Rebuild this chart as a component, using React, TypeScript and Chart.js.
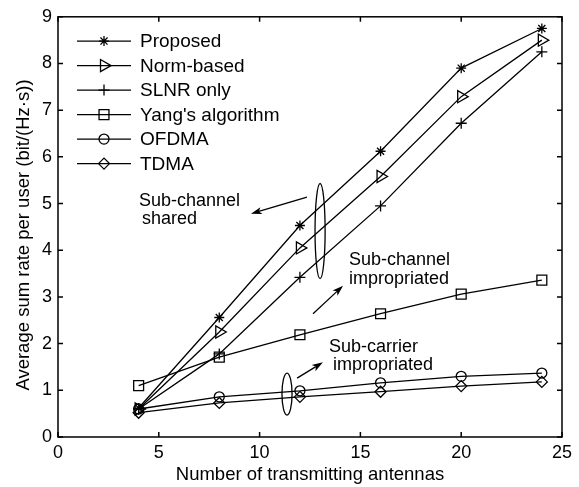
import React, { useEffect, useRef } from "react";
import { Chart, registerables } from "chart.js";
import { drawPoint } from "chart.js/helpers";

Chart.register(...registerables);

// ---------- data ----------
const antennas = [4, 8, 12, 16, 20, 24];
const proposed = [0.62, 2.56, 4.53, 6.12, 7.9, 8.75];
const normBased = [0.6, 2.25, 4.05, 5.58, 7.29, 8.5];
const slnrOnly = [0.6, 1.78, 3.42, 4.95, 6.72, 8.25];
const yangAlg = [1.1, 1.71, 2.19, 2.64, 3.06, 3.36];
const ofdma = [0.6, 0.86, 0.99, 1.16, 1.3, 1.37];
const tdma = [0.52, 0.73, 0.86, 0.97, 1.09, 1.18];

const seriesLabels = ["Proposed", "Norm-based", "SLNR only", "Yang's algorithm", "OFDMA", "TDMA"];
const seriesValues = [proposed, normBased, slnrOnly, yangAlg, ofdma, tdma];
const markerStyles = ["star", "triangle", "cross", "rect", "circle", "rectRot"];
const markerRotation = [0, 90, 0, 0, 0, 0];
const markerRadius = [5, 7, 5.5, 7, 5, 5.5];

const xTickValues = [0, 5, 10, 15, 20, 25];
const yTickValues = [0, 1, 2, 3, 4, 5, 6, 7, 8, 9];

const xTitle = "Number of transmitting antennas";
const yTitle = "Average sum rate per user (bit/(Hz\u00b7s))";

// annotations (data coordinates)
const annotationTexts = [
  { lines: ["Sub-channel", "shared"], x: 4.02, y: [5.05, 4.67], dx: [0, 0.15] },
  { lines: ["Sub-channel", "impropriated"], x: 14.43, y: [3.8, 3.39], dx: [0, 0] },
  { lines: ["Sub-carrier", "impropriated"], x: 13.44, y: [1.92, 1.54], dx: [0, 0.2] },
];
const annotationArrows = [
  { from: [12.35, 5.14], to: [9.57, 4.78] },
  { from: [12.65, 2.64], to: [14.14, 3.24] },
  { from: [11.86, 1.26], to: [13.14, 1.6] },
];
const annotationEllipses = [
  { cx: 13.0, cy: 4.41, rx: 0.25, ry: 1.02 },
  { cx: 11.36, cy: 0.92, rx: 0.25, ry: 0.45 },
];

const FONT = "'Liberation Sans', Arial, Helvetica, sans-serif";
const FS = 18;

function drawArrow(ctx: CanvasRenderingContext2D, x1: number, y1: number, x2: number, y2: number) {
  const ang = Math.atan2(y2 - y1, x2 - x1);
  const len = 11;
  const hw = 3.6;
  const bx = x2 - Math.cos(ang) * len;
  const by = y2 - Math.sin(ang) * len;
  const nx = x2 - Math.cos(ang) * (len * 0.75);
  const ny = y2 - Math.sin(ang) * (len * 0.75);
  ctx.beginPath();
  ctx.moveTo(x1, y1);
  ctx.lineTo(nx, ny);
  ctx.stroke();
  ctx.beginPath();
  ctx.moveTo(x2, y2);
  ctx.lineTo(bx - Math.sin(ang) * hw, by + Math.cos(ang) * hw);
  ctx.lineTo(nx, ny);
  ctx.lineTo(bx + Math.sin(ang) * hw, by - Math.cos(ang) * hw);
  ctx.closePath();
  ctx.fill();
}

const framePlugin = {
  id: "framePlugin",
  afterDatasetsDraw(chart: any) {
    const ctx: CanvasRenderingContext2D = chart.ctx;
    const { left, right, top, bottom } = chart.chartArea;
    const xs = chart.scales.x;
    const ys = chart.scales.y;
    ctx.save();
    ctx.strokeStyle = "#000";
    ctx.fillStyle = "#000";

    // annotations
    ctx.lineWidth = 1.3;
    annotationEllipses.forEach((e) => {
      const cx = xs.getPixelForValue(e.cx);
      const cy = ys.getPixelForValue(e.cy);
      const rx = Math.abs(xs.getPixelForValue(e.cx + e.rx) - cx);
      const ry = Math.abs(ys.getPixelForValue(e.cy + e.ry) - cy);
      ctx.beginPath();
      ctx.ellipse(cx, cy, rx, ry, 0, 0, Math.PI * 2);
      ctx.stroke();
    });
    annotationArrows.forEach((a) => {
      drawArrow(
        ctx,
        xs.getPixelForValue(a.from[0]),
        ys.getPixelForValue(a.from[1]),
        xs.getPixelForValue(a.to[0]),
        ys.getPixelForValue(a.to[1])
      );
    });
    ctx.font = `${FS}px ${FONT}`;
    ctx.textAlign = "left";
    ctx.textBaseline = "middle";
    annotationTexts.forEach((t) => {
      t.lines.forEach((line, i) => {
        ctx.fillText(line, xs.getPixelForValue(t.x + t.dx[i]), ys.getPixelForValue(t.y[i]));
      });
    });

    // legend
    const lx0 = left + 19;
    const lx1 = left + 73;
    const ltx = left + 82;
    ctx.font = `19px ${FONT}`;
    chart.data.datasets.forEach((ds: any, i: number) => {
      const y = top + 24.3 + i * 24.5;
      ctx.lineWidth = 1.3;
      ctx.beginPath();
      ctx.moveTo(lx0, y);
      ctx.lineTo(lx1, y);
      ctx.stroke();
      ctx.fillStyle = "rgba(0,0,0,0)";
      drawPoint(
        ctx,
        {
          pointStyle: markerStyles[i],
          rotation: markerRotation[i],
          radius: markerRadius[i],
          borderWidth: 1.3,
        } as any,
        (lx0 + lx1) / 2,
        y
      );
      ctx.fillStyle = "#000";
      ctx.fillText(ds.label, ltx, y + 1);
    });

    // y-axis title
    ctx.save();
    ctx.font = `18.5px ${FONT}`;
    ctx.textAlign = "center";
    ctx.textBaseline = "middle";
    ctx.translate(24, 235);
    ctx.rotate(-Math.PI / 2);
    ctx.fillText(yTitle, 0, 0);
    ctx.restore();

    // box + inward ticks
    ctx.lineWidth = 1.5;
    ctx.strokeRect(left, top, right - left, bottom - top);
    const tl = 5;
    xTickValues.forEach((v) => {
      const px = xs.getPixelForValue(v);
      ctx.beginPath();
      ctx.moveTo(px, bottom);
      ctx.lineTo(px, bottom - tl);
      ctx.moveTo(px, top);
      ctx.lineTo(px, top + tl);
      ctx.stroke();
    });
    yTickValues.forEach((v) => {
      const py = ys.getPixelForValue(v);
      ctx.beginPath();
      ctx.moveTo(left, py);
      ctx.lineTo(left + tl, py);
      ctx.moveTo(right, py);
      ctx.lineTo(right - tl, py);
      ctx.stroke();
    });
    ctx.restore();
  },
};

export default function App() {
  const canvasRef = useRef<HTMLCanvasElement | null>(null);

  useEffect(() => {
    if (!canvasRef.current) return;
    const datasets = seriesLabels.map((label, i) => ({
      label,
      data: antennas.map((x, j) => ({ x, y: seriesValues[i][j] })),
      borderColor: "#000",
      backgroundColor: "rgba(0,0,0,0)",
      borderWidth: 1.3,
      pointStyle: markerStyles[i],
      rotation: markerRotation[i],
      pointRadius: markerRadius[i],
      pointBorderWidth: 1.3,
      pointBorderColor: "#000",
      pointBackgroundColor: "rgba(0,0,0,0)",
      tension: 0,
      fill: false,
    }));

    const chart = new Chart(canvasRef.current, {
      type: "line",
      data: { datasets },
      plugins: [framePlugin],
      options: {
        responsive: false,
        animation: false,
        devicePixelRatio: window.devicePixelRatio || 1,
        layout: { padding: { left: 0, top: 15, right: 17, bottom: 0 } },
        plugins: {
          legend: { display: false },
          tooltip: { enabled: false },
        },
        scales: {
          x: {
            type: "linear",
            min: 0,
            max: 25,
            afterFit: (scale: any) => {
              scale.height = 50;
            },
            afterBuildTicks: (scale: any) => {
              scale.ticks = xTickValues.map((v) => ({ value: v }));
            },
            grid: { display: false, drawTicks: false },
            border: { display: false },
            ticks: {
              color: "#000",
              padding: 5,
              maxRotation: 0,
              font: { family: FONT, size: FS },
            },
            title: {
              display: true,
              text: xTitle,
              color: "#000",
              font: { family: FONT, size: 18.5 },
              padding: { top: 0, bottom: 1.2 },
            },
          },
          y: {
            type: "linear",
            min: 0,
            max: 9,
            afterFit: (scale: any) => {
              scale.width = 58;
            },
            afterBuildTicks: (scale: any) => {
              scale.ticks = yTickValues.map((v) => ({ value: v }));
            },
            grid: { display: false, drawTicks: false },
            border: { display: false },
            ticks: {
              color: "#000",
              padding: 6,
              font: { family: FONT, size: FS },
            },
            title: { display: false },
          },
        },
      },
    } as any);
    return () => chart.destroy();
  }, []);

  return (
    <div style={{ position: "fixed", left: 0, top: 0, width: 579, height: 487, background: "#fff" }}>
      <canvas ref={canvasRef} width={579} height={487} style={{ display: "block", width: 579, height: 487 }} />
    </div>
  );
}
